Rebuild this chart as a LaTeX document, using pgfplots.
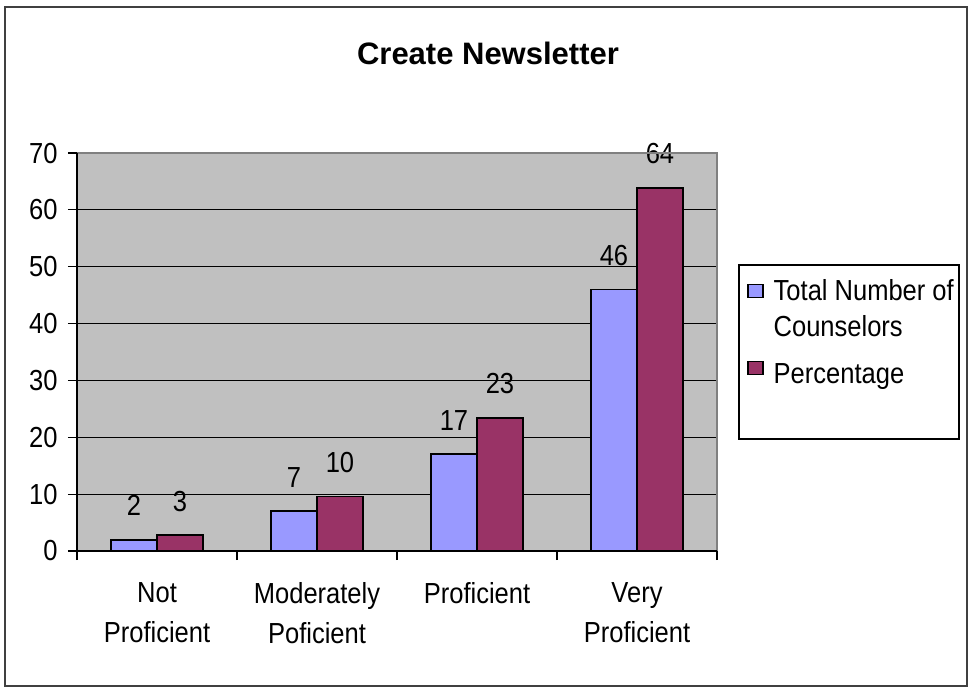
\documentclass[border=0pt]{standalone}
\usepackage{fontspec}
\setmainfont[FakeStretch=0.88]{Liberation Sans}
\newfontfamily\titlefont{Liberation Sans}
\usepackage{pgfplots}
\pgfplotsset{compat=1.18}

\definecolor{barblue}{HTML}{9999FF}
\definecolor{barplum}{HTML}{993366}
\definecolor{plotgray}{HTML}{C0C0C0}
\definecolor{edgegray}{HTML}{808080}
\definecolor{framegray}{HTML}{404040}
\newcommand{\lbl}{\fontsize{14.5}{20}\selectfont}
% fixed row boxes for the legend text: height #1, depth 2pt
\newcommand{\lrow}[2]{\smash{#2}\rule[-2pt]{0pt}{\dimexpr#1+2pt\relax}}

\begin{document}
\begin{tikzpicture}
% page and chart frame
\path (-38.5pt,-68pt) rectangle (447.5pt,275.5pt);
\draw[framegray, line width=1pt] (-36pt,-67.5pt) rectangle (445pt,272pt);
\node[font=\titlefont\bfseries\fontsize{15.5}{18}\selectfont, anchor=base]
  at (205.5pt,243.5pt) {Create Newsletter};
% legend box
\draw[black, line width=0.6pt] (331pt,56pt) rectangle (441pt,143pt);

\begin{axis}[
    at={(0,0)}, anchor=south west,
    scale only axis, width=320pt, height=199pt,
    ybar=0pt, bar width=23pt,
    xmin=-0.5, xmax=3.5, ymin=0, ymax=70,
    xtick={0,1,2,3},
    xticklabels={{Not\\Proficient},{Moderately\\Poficient},{Proficient},{Very\\Proficient}},
    minor xtick={-0.5,0.5,1.5,2.5,3.5},
    major x tick style={draw=none},
    minor x tick style={black, line width=0.6pt},
    ytick={0,10,...,70},
    major y tick style={black, line width=0.6pt},
    tick align=outside, tick pos=left,
    major tick length=4.5pt, minor tick length=4.5pt,
    ymajorgrids, grid style={black, line width=0.5pt},
    axis background/.style={fill=plotgray},
    axis line style={draw=none},
    /pgf/number format/assume math mode=true,
    tick label style={font=\lbl},
    yticklabel style={inner xsep=0pt, xshift=-5pt},
    xticklabel style={align=center, inner ysep=0pt, yshift=-11pt},
    nodes near coords={\pgfmathprintnumber[fixed,precision=0]{\pgfplotspointmeta}},
    every node near coord/.append style={font=\lbl, inner sep=0pt, anchor=base, yshift=12pt},
    legend style={draw=none, fill=none, font=\lbl, inner sep=0pt,
        at={(axis description cs:1.0470,0.6825)}, anchor=north west,
        nodes={inner sep=0pt}, row sep=6pt, column sep=5pt},
    legend cell align=left,
    legend image code/.code={\draw[#1, draw=black, line width=0.6pt] (0pt,-2.75pt) rectangle (7.5pt,3.75pt);},
    after end axis/.code={
        \draw[edgegray, line width=0.6pt] (rel axis cs:0,1) -- (rel axis cs:1,1) -- (rel axis cs:1,0);
        \draw[black, line width=0.6pt] (rel axis cs:0,1) -- (rel axis cs:0,0) -- (rel axis cs:1,0);
    },
]
\addplot[fill=barblue, draw=black, line width=0.9pt] coordinates {(0,2) (1,7) (2,17) (3,46)};
\addlegendentry{\lrow{10.5pt}{Total Number of}}
\addlegendimage{empty legend}
\addlegendentry{\lrow{10.5pt}{Counselors}}
\addplot[fill=barplum, draw=black, line width=0.9pt] coordinates {(0,2.8) (1,9.6) (2,23.4) (3,63.9)};
\addlegendentry{\lrow{16pt}{Percentage}}
\end{axis}
\end{tikzpicture}
\end{document}
